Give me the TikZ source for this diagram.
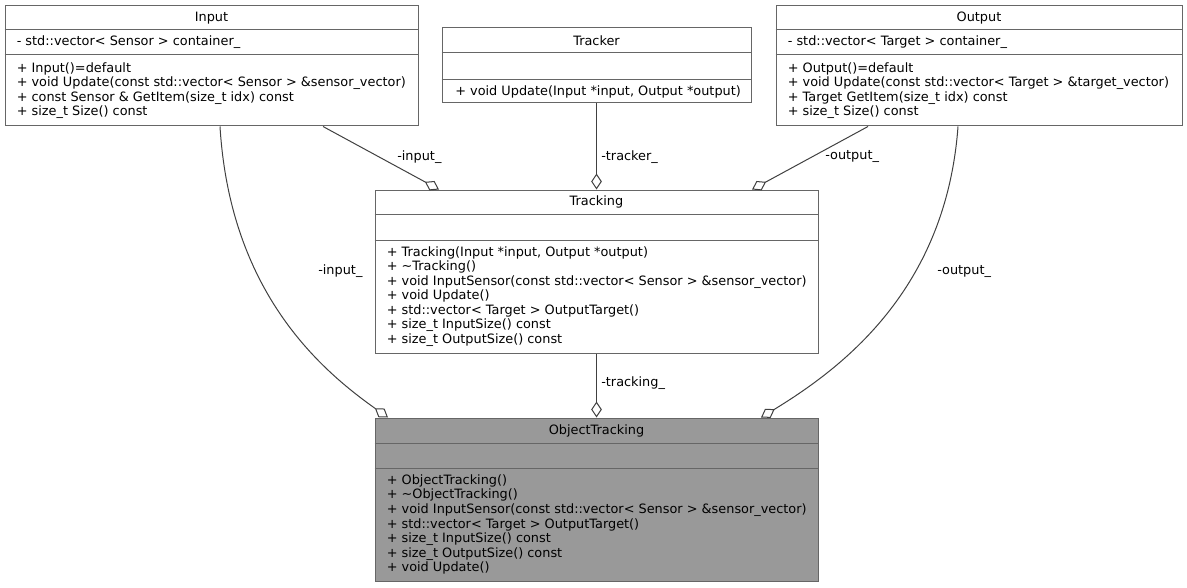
\documentclass[tikz,border=0pt]{standalone}
\usepackage{fontspec}
\setmainfont{DejaVu Sans}
\usetikzlibrary{arrows.meta,fit}
\newcommand\dfs{\fontsize{9.65pt}{10.9pt}\selectfont}
\definecolor{boxc}{HTML}{666666}
\definecolor{edgec}{HTML}{404040}
\definecolor{focusc}{HTML}{999999}
\begin{document}
\begin{tikzpicture}[x=0.75pt,y=-0.75pt,
  classbox/.style={draw=boxc, line width=0.75pt, inner sep=0pt},
  divider/.style={draw=boxc, line width=0.75pt},
  ctitle/.style={font=\dfs, inner sep=0pt},
  cmembers/.style={font=\dfs, inner sep=0pt, anchor=west, align=left},
  edge/.style={draw=edgec, line width=0.75pt, -{Diamond[fill=white, length=12pt, width=8pt]}},
  elabel/.style={font=\dfs, inner sep=0pt, anchor=west}]
\useasboundingbox (0,0) rectangle (1187,588);

% Input
\node[classbox, fill=white, fit={(5,6) (418,126)}] (input) {};
\draw[divider] (input.west |- 0,30) -- (input.east |- 0,30);
\draw[divider] (input.west |- 0,55) -- (input.east |- 0,55);
\node[ctitle] (input-t) at (input.north |- 0,18) {Input};
\node[cmembers] (input-a) at (16.5,42.5) {- std::vector< Sensor > container\_};
\node[cmembers] (input-m) at (16.5,90.5) {+ Input()=default\\+ void Update(const std::vector< Sensor > \&sensor\_vector)\\+ const Sensor \& GetItem(size\_t idx) const\\+ size\_t Size() const};

% Tracker
\node[classbox, fill=white, fit={(442,28) (751,103)}] (tracker) {};
\draw[divider] (tracker.west |- 0,52.5) -- (tracker.east |- 0,52.5);
\draw[divider] (tracker.west |- 0,80) -- (tracker.east |- 0,80);
\node[ctitle] (tracker-t) at (tracker.north |- 0,40.5) {Tracker};
\node[cmembers] (tracker-m) at (455,91.5) {+ void Update(Input *input, Output *output)};

% Output
\node[classbox, fill=white, fit={(776,6) (1182,126)}] (output) {};
\draw[divider] (output.west |- 0,30) -- (output.east |- 0,30);
\draw[divider] (output.west |- 0,55) -- (output.east |- 0,55);
\node[ctitle] (output-t) at (output.north |- 0,18) {Output};
\node[cmembers] (output-a) at (787.5,42.5) {- std::vector< Target > container\_};
\node[cmembers] (output-m) at (787.5,90.5) {+ Output()=default\\+ void Update(const std::vector< Target > \&target\_vector)\\+ Target GetItem(size\_t idx) const\\+ size\_t Size() const};

% Tracking
\node[classbox, fill=white, fit={(375,190) (818,353)}] (tracking) {};
\draw[divider] (tracking.west |- 0,214) -- (tracking.east |- 0,214);
\draw[divider] (tracking.west |- 0,240) -- (tracking.east |- 0,240);
\node[ctitle] (tracking-t) at (tracking.north |- 0,202) {Tracking};
\node[cmembers] (tracking-m) at (386.5,296.5) {+ Tracking(Input *input, Output *output)\\+ \textasciitilde Tracking()\\+ void InputSensor(const std::vector< Sensor > \&sensor\_vector)\\+ void Update()\\+ std::vector< Target > OutputTarget()\\+ size\_t InputSize() const\\+ size\_t OutputSize() const};

% ObjectTracking
\node[classbox, fill=focusc, fit={(375,418) (818,581)}] (ot) {};
\draw[divider] (ot.west |- 0,443) -- (ot.east |- 0,443);
\draw[divider] (ot.west |- 0,468) -- (ot.east |- 0,468);
\node[ctitle] (ot-t) at (ot.north |- 0,430.5) {ObjectTracking};
\node[cmembers] (ot-m) at (386.5,524.5) {+ ObjectTracking()\\+ \textasciitilde ObjectTracking()\\+ void InputSensor(const std::vector< Sensor > \&sensor\_vector)\\+ std::vector< Target > OutputTarget()\\+ size\_t InputSize() const\\+ size\_t OutputSize() const\\+ void Update()};

% connectors
\draw[edge] (input.south -| 323,0) -- (tracking.north -| 439,0);
\draw[edge] (tracker.south) -- (tracking.north -| tracker.south);
\draw[edge] (output.south -| 868,0) -- (tracking.north -| 752,0);
\draw[edge] (tracking.south) -- (ot.north -| tracking.south);
\draw[edge] (input.south -| 220,0) .. controls (230,290) and (318,368) .. (ot.north -| 388,0);
\draw[edge] (output.south -| 958,0) .. controls (946,290) and (842,368) .. (ot.north -| 761,0);

% labels
\node[elabel] (l-in1) at (397,157) {-input\_};
\node[elabel] (l-tr) at (601,157) {-tracker\_};
\node[elabel] (l-out1) at (825,157) {-output\_};
\node[elabel] (l-in2) at (318,271) {-input\_};
\node[elabel] (l-out2) at (937,271) {-output\_};
\node[elabel] (l-tk) at (601,383) {-tracking\_};
\end{tikzpicture}
\end{document}
